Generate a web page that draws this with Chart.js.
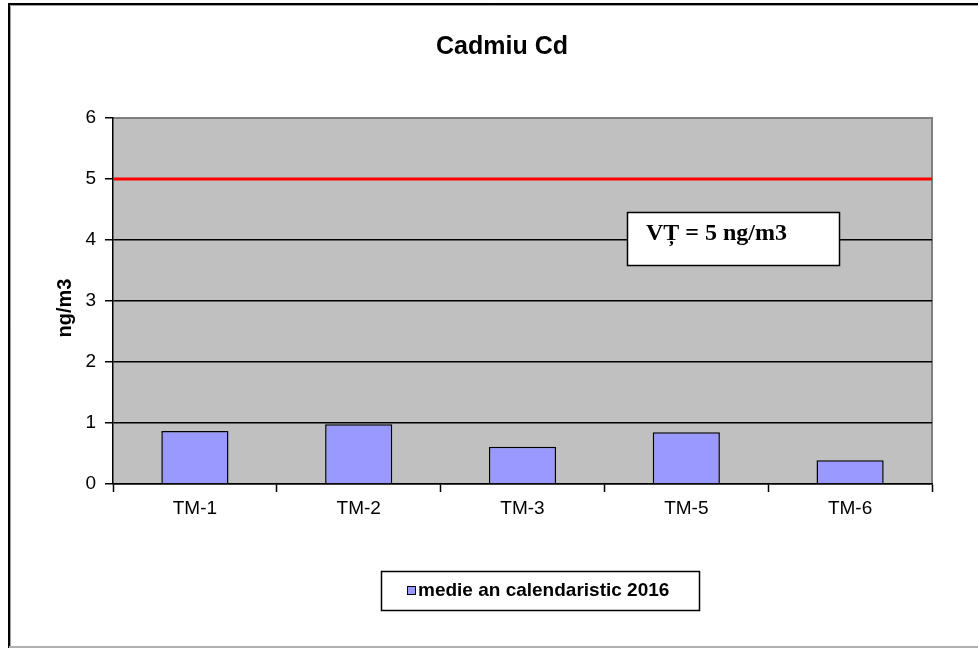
<!DOCTYPE html>
<html>
<head>
<meta charset="utf-8">
<script src="https://cdn.jsdelivr.net/npm/chart.js@4/dist/chart.umd.min.js"></script>
<style>
    html, body { margin: 0; padding: 0; background: #fff; }
    #wrap { width: 978px; height: 648px; position: relative; }
</style>
</head>
<body>
<div id="wrap"><canvas id="cadmiuChart" width="978" height="648"></canvas></div>
<script>
// date
const stations = ['TM-1', 'TM-2', 'TM-3', 'TM-5', 'TM-6'];
const annualMean = [0.87, 0.98, 0.61, 0.85, 0.39];
const seriesLabel = 'medie an calendaristic 2016';
const limitValue = 5;
const limitLabel = 'VȚ = 5 ng/m3';
const yTicks = [0, 1, 2, 3, 4, 5, 6];
const chartTitle = 'Cadmiu Cd';
const yTitle = 'ng/m3';

// fundal, cadru, linia limita, caseta si legenda
const decorPlugin = {
    id: 'decor',
    beforeDraw(chart) {
        const { ctx, chartArea } = chart;
        ctx.save();
        ctx.fillStyle = '#ffffff';
        ctx.fillRect(0, 0, chart.width, chart.height);
        // cadru exterior
        ctx.strokeStyle = '#000';
        ctx.lineWidth = 2;
        ctx.beginPath();
        ctx.moveTo(9, 648);
        ctx.lineTo(9, 4);
        ctx.lineTo(978, 4);
        ctx.stroke();
        ctx.strokeStyle = '#a0a0a0';
        ctx.lineWidth = 1;
        ctx.beginPath();
        ctx.moveTo(10.5, 648);
        ctx.lineTo(10.5, 5.5);
        ctx.lineTo(978, 5.5);
        ctx.stroke();
        ctx.strokeStyle = '#b0b0b0';
        ctx.lineWidth = 2;
        ctx.beginPath();
        ctx.moveTo(9, 647);
        ctx.lineTo(978, 647);
        ctx.stroke();
        // zona graficului
        ctx.fillStyle = '#c0c0c0';
        ctx.fillRect(chartArea.left, chartArea.top, chartArea.width, chartArea.height);
        ctx.strokeStyle = '#808080';
        ctx.lineWidth = 2;
        ctx.beginPath();
        ctx.moveTo(chartArea.left, chartArea.top);
        ctx.lineTo(chartArea.right, chartArea.top);
        ctx.lineTo(chartArea.right, chartArea.bottom);
        ctx.stroke();
        ctx.restore();
    },
    afterDatasetsDraw(chart) {
        const { ctx, chartArea, scales } = chart;
        ctx.save();
        // linia valorii tinta
        const yLim = scales.y.getPixelForValue(limitValue);
        ctx.strokeStyle = '#ff0000';
        ctx.lineWidth = 3;
        ctx.beginPath();
        ctx.moveTo(chartArea.left, yLim);
        ctx.lineTo(chartArea.right, yLim);
        ctx.stroke();

        // caseta VT
        ctx.fillStyle = '#fff';
        ctx.fillRect(627, 212, 213, 54);
        ctx.strokeStyle = '#000';
        ctx.lineWidth = 1.5;
        ctx.strokeRect(627.5, 212.5, 212, 53);
        ctx.fillStyle = '#000';
        ctx.font = 'bold 24px "Liberation Serif", "Times New Roman", serif';
        ctx.textAlign = 'left';
        ctx.textBaseline = 'alphabetic';
        ctx.fillText(limitLabel, 646, 240);

        // titlu
        ctx.font = 'bold 25px "Liberation Sans", Arial, sans-serif';
        ctx.textAlign = 'center';
        ctx.textBaseline = 'middle';
        ctx.fillText(chartTitle, 502, 47);

        // titlu axa y
        ctx.save();
        ctx.translate(65, 308);
        ctx.rotate(-Math.PI / 2);
        ctx.font = 'bold 20px "Liberation Sans", Arial, sans-serif';
        ctx.fillText(yTitle, 0, 0);
        ctx.restore();

        // legenda
        ctx.fillStyle = '#fff';
        ctx.fillRect(381, 571, 319, 40);
        ctx.strokeStyle = '#000';
        ctx.lineWidth = 1.5;
        ctx.strokeRect(381.5, 571.5, 318, 39);
        ctx.fillStyle = '#9999ff';
        ctx.fillRect(407, 586, 8, 8);
        ctx.lineWidth = 1;
        ctx.strokeRect(407.5, 586.5, 8, 8);
        ctx.fillStyle = '#000';
        ctx.font = 'bold 19px "Liberation Sans", Arial, sans-serif';
        ctx.textAlign = 'left';
        ctx.textBaseline = 'middle';
        ctx.fillText(seriesLabel, 418, 591);
        ctx.restore();
    }
};

const ctx = document.getElementById('cadmiuChart').getContext('2d');
new Chart(ctx, {
    type: 'bar',
    data: {
        labels: stations,
        datasets: [{
            label: seriesLabel,
            data: annualMean,
            backgroundColor: '#9999ff',
            borderColor: '#000000',
            borderWidth: 1.5,
            barPercentage: 0.41,
            categoryPercentage: 1
        }]
    },
    options: {
        responsive: false,
        animation: false,
        devicePixelRatio: 1,
        layout: {
            padding: { left: 0, top: 118, right: 46, bottom: 104 }
        },
        plugins: {
            legend: { display: false },
            title: { display: false },
            tooltip: { enabled: false }
        },
        scales: {
            x: {
                afterFit: scale => { scale.height = 60; },
                grid: {
                    offset: true,
                    drawOnChartArea: false,
                    drawTicks: true,
                    tickLength: 8,
                    tickColor: '#000',
                    tickWidth: 1.5
                },
                border: { color: '#000', width: 1.5 },
                ticks: {
                    color: '#000',
                    padding: 5,
                    font: { family: '"Liberation Sans", Arial, sans-serif', size: 19 }
                }
            },
            y: {
                min: yTicks[0],
                max: yTicks[yTicks.length - 1],
                afterFit: scale => { scale.width = 113; },
                afterBuildTicks: scale => {
                    scale.ticks = yTicks.map(v => ({ value: v }));
                },
                grid: {
                    color: c => (c.tick && c.tick.value === yTicks[yTicks.length - 1]) ? 'rgba(0,0,0,0)' : '#000',
                    lineWidth: 1.5,
                    drawTicks: true,
                    tickLength: 8,
                    tickColor: '#000',
                    tickWidth: 1.5
                },
                border: { color: '#000', width: 1.5 },
                ticks: {
                    color: '#000',
                    padding: 9,
                    font: { family: '"Liberation Sans", Arial, sans-serif', size: 19 }
                }
            }
        }
    },
    plugins: [decorPlugin]
});
</script>
</body>
</html>
